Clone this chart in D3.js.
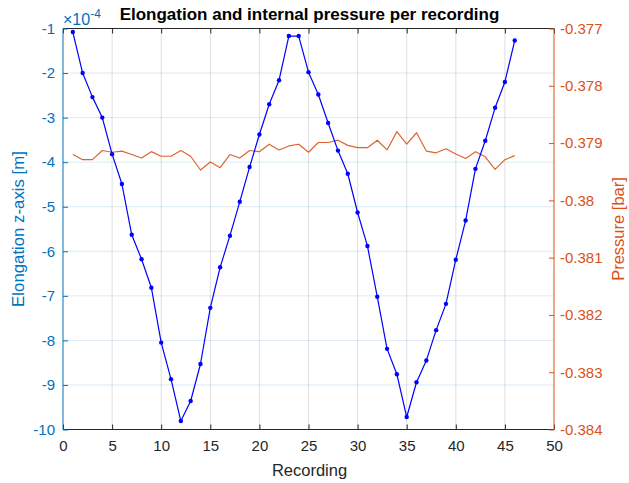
<!DOCTYPE html>
<html><head><meta charset="utf-8">
<script src="https://cdn.jsdelivr.net/npm/d3@7"></script>
<style>body{margin:0;background:#fff}svg{display:block}text{font-family:"Liberation Sans",Arial,sans-serif}</style>
</head><body><svg id="c" width="629" height="483"></svg>
<script>
const recordings = d3.range(1, 47);
const elongation = [-1.08,-2.0,-2.54,-3.0,-3.82,-4.49,-5.63,-6.18,-6.82,-8.05,-8.87,-9.81,-9.36,-8.53,-7.27,-6.36,-5.65,-4.89,-4.11,-3.38,-2.70,-2.16,-1.17,-1.17,-1.98,-2.48,-3.12,-3.74,-4.26,-5.13,-5.88,-7.02,-8.19,-8.76,-9.72,-8.94,-8.45,-7.77,-7.18,-6.19,-5.31,-4.15,-3.52,-2.78,-2.20,-1.27];
const pressure = [-0.37920,-0.37929,-0.37929,-0.37913,-0.37916,-0.37914,-0.37920,-0.37926,-0.37915,-0.37923,-0.37923,-0.37913,-0.37923,-0.37947,-0.37933,-0.37943,-0.37920,-0.37926,-0.37913,-0.37915,-0.37902,-0.37912,-0.37905,-0.37902,-0.37916,-0.37899,-0.37899,-0.37895,-0.37904,-0.37908,-0.37908,-0.37895,-0.37912,-0.37880,-0.37902,-0.37882,-0.37914,-0.37917,-0.37910,-0.37919,-0.37927,-0.37915,-0.37924,-0.37946,-0.37929,-0.37922];
const xTicks = d3.range(0, 51, 5);
const leftTicks = d3.range(-10, 0, 1);
const rightTicks = [-0.384,-0.383,-0.382,-0.381,-0.380,-0.379,-0.378,-0.377];

const svg = d3.select("#c");
const L = 63, R = 554, T = 28.5, B = 429.5;
const x = d3.scaleLinear().domain([0, 50]).range([L, R]);
const yL = d3.scaleLinear().domain([-10, -1]).range([B, T]);
const yR = d3.scaleLinear().domain([-0.384, -0.377]).range([B, T]);
const blueAx = "#0072BD", orange = "#D95319", dark = "#262626";
const hy = s => String(s).replace("\u2212", "-");
const fmtR = d => hy(String(+d.toFixed(3)));

// grid
svg.append("g").selectAll("line").data(xTicks.slice(1, -1)).join("line")
  .attr("x1", d => x(d)).attr("x2", d => x(d)).attr("y1", T).attr("y2", B)
  .attr("stroke", dark).attr("stroke-opacity", 0.15).attr("stroke-width", 1);
svg.append("g").selectAll("line").data(leftTicks.slice(1)).join("line")
  .attr("x1", L).attr("x2", R).attr("y1", d => yL(d)).attr("y2", d => yL(d))
  .attr("stroke", blueAx).attr("stroke-opacity", 0.15).attr("stroke-width", 1);

// lines
const lineL = d3.line().x((d, i) => x(recordings[i])).y(d => yL(d));
const lineR = d3.line().x((d, i) => x(recordings[i])).y(d => yR(d));
svg.append("path").attr("d", lineR(pressure)).attr("fill", "none").attr("stroke", orange).attr("stroke-width", 1.2).attr("stroke-opacity", 0.9).attr("stroke-linejoin", "round");
svg.append("path").attr("d", lineL(elongation)).attr("fill", "none").attr("stroke", "#0000FF").attr("stroke-width", 1.2).attr("stroke-linejoin", "round");
svg.append("g").selectAll("circle").data(elongation).join("circle")
  .attr("cx", (d, i) => x(recordings[i])).attr("cy", d => yL(d)).attr("r", 2.2).attr("fill", "#0000FF");

// axes
const tk = 5;
const axB = d3.axisBottom(x).tickValues(xTicks).tickSize(-tk).tickPadding(11).tickFormat(d => String(d));
const gb = svg.append("g").attr("transform", `translate(0,${B})`).call(axB);
gb.select(".domain").remove();
gb.selectAll("line").attr("stroke", dark);
gb.selectAll("text").attr("fill", dark).attr("font-size", 15).attr("font-family", "Liberation Sans, Arial, sans-serif");
const axT = d3.axisTop(x).tickValues(xTicks).tickSize(-tk).tickFormat("");
const gt = svg.append("g").attr("transform", `translate(0,${T})`).call(axT);
gt.select(".domain").remove();
gt.selectAll("line").attr("stroke", dark);
svg.append("line").attr("x1", L).attr("x2", R).attr("y1", B).attr("y2", B).attr("stroke", dark);
svg.append("line").attr("x1", L).attr("x2", R).attr("y1", T).attr("y2", T).attr("stroke", dark);

const axL = d3.axisLeft(yL).tickValues(leftTicks).tickSize(-tk).tickPadding(8).tickFormat(d => hy(String(d)));
const gl = svg.append("g").attr("transform", `translate(${L},0)`).call(axL);
gl.selectAll("line").attr("stroke", blueAx);
gl.selectAll("text").attr("fill", blueAx).attr("font-size", 15).attr("font-family", "Liberation Sans, Arial, sans-serif");

const axR = d3.axisRight(yR).tickValues(rightTicks).tickSize(-tk).tickPadding(6).tickFormat(fmtR);
const gr = svg.append("g").attr("transform", `translate(${R},0)`).call(axR);
gr.selectAll("line").attr("stroke", orange);
gr.selectAll("text").attr("fill", orange).attr("font-size", 15).attr("font-family", "Liberation Sans, Arial, sans-serif");
gl.select(".domain").attr("d", `M0,${B}V${T}`).attr("stroke", blueAx);
gr.select(".domain").attr("d", `M0,${B}V${T}`).attr("stroke", orange);

// labels
svg.append("text").attr("x", (L + R) / 2 + 1).attr("y", 20).attr("text-anchor", "middle")
  .attr("font-weight", "bold").attr("font-size", 17).attr("fill", "#000")
  .text("Elongation and internal pressure per recording");
const ex = svg.append("text").attr("x", 63).attr("y", 24.5).attr("fill", blueAx).attr("font-size", 16);
ex.append("tspan").text("×10");
ex.append("tspan").attr("dy", -7).attr("font-size", 12).text("-4");
svg.append("text").attr("transform", `translate(24,${(T + B) / 2}) rotate(-90)`).attr("text-anchor", "middle")
  .attr("fill", blueAx).attr("font-size", 16.8).text("Elongation z-axis [m]");
svg.append("text").attr("transform", `translate(624,${(T + B) / 2}) rotate(-90)`).attr("text-anchor", "middle")
  .attr("fill", orange).attr("font-size", 16.5).text("Pressure [bar]");
svg.append("text").attr("x", (L + R) / 2 + 1).attr("y", 475.5).attr("text-anchor", "middle")
  .attr("fill", dark).attr("font-size", 16.5).text("Recording");
</script></body></html>
